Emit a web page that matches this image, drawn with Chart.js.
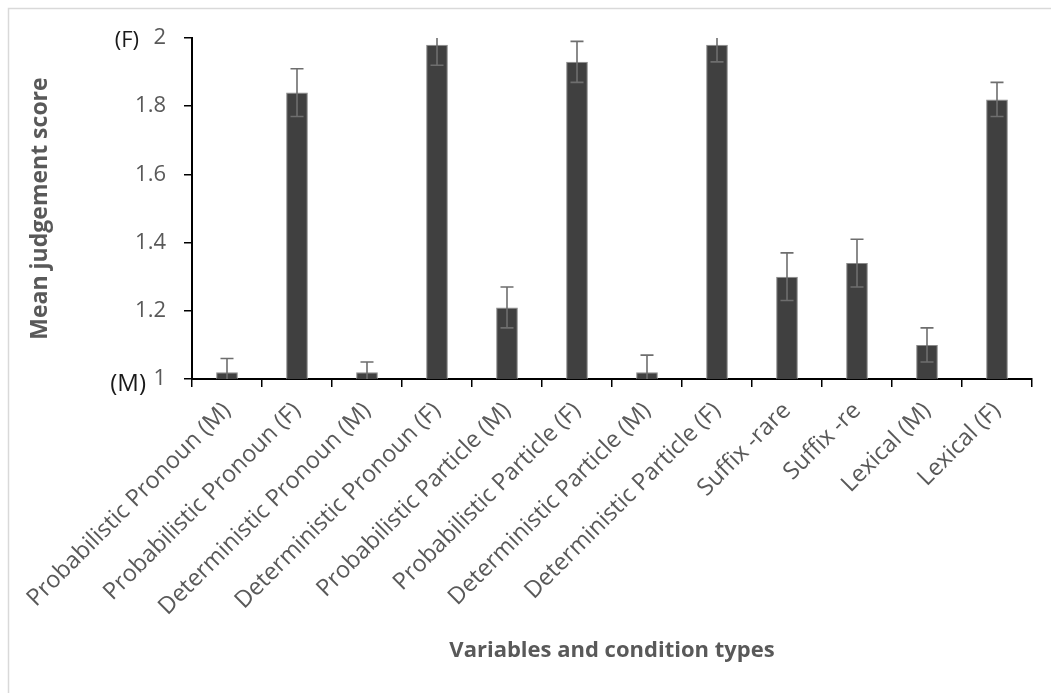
<!DOCTYPE html>
<html>
<head>
<meta charset="utf-8">
<title>Mean judgement score</title>
<script src="https://cdn.jsdelivr.net/npm/chart.js@4.4.1/dist/chart.umd.min.js"></script>
<style>
  html, body { margin: 0; padding: 0; background: #fff; }
  #wrap { width: 1051px; height: 693px; }
</style>
</head>
<body>
<div id="wrap"><canvas id="scoreChart" width="1051" height="693"></canvas></div>
<script>
const categories = [
  'Probabilistic Pronoun (M)', 'Probabilistic Pronoun (F)',
  'Deterministic Pronoun (M)', 'Deterministic Pronoun (F)',
  'Probabilistic Particle (M)', 'Probabilistic Particle (F)',
  'Deterministic Particle (M)', 'Deterministic Particle (F)',
  'Suffix -rare', 'Suffix -re', 'Lexical (M)', 'Lexical (F)'
];
const means  = [1.02, 1.84, 1.02, 1.98, 1.21, 1.93, 1.02, 1.98, 1.30, 1.34, 1.10, 1.82];
const errors = [0.04, 0.07, 0.03, 0.06, 0.06, 0.06, 0.05, 0.05, 0.07, 0.07, 0.05, 0.05];
const yTicks = [1, 1.2, 1.4, 1.6, 1.8, 2];

const grey = '#595959';
const font = "'Open Sans', sans-serif";

// white page with the light frame round the chart
const frame = {
  id: 'frame',
  beforeDraw(chart) {
    const { ctx, width, height } = chart;
    ctx.save();
    ctx.fillStyle = '#fff';
    ctx.fillRect(0, 0, width, height);
    ctx.strokeStyle = '#d9d9d9';
    ctx.lineWidth = 1.5;
    ctx.strokeRect(8.5, 8.5, width + 20, height + 20);
    ctx.restore();
  }
};

// +/- error whiskers on each bar, clipped to the plot area
const errorBars = {
  id: 'errorBars',
  afterDatasetsDraw(chart) {
    const { ctx, chartArea } = chart;
    const y = chart.scales.y;
    const meta = chart.getDatasetMeta(0);
    ctx.save();
    ctx.beginPath();
    ctx.rect(chartArea.left, chartArea.top, chartArea.right - chartArea.left, chartArea.bottom - chartArea.top);
    ctx.clip();
    ctx.strokeStyle = '#6e6e6e';
    ctx.lineWidth = 1.6;
    meta.data.forEach((bar, i) => {
      const hi = y.getPixelForValue(means[i] + errors[i]);
      const lo = y.getPixelForValue(means[i] - errors[i]);
      const x = bar.x;
      const cap = 6.5;
      ctx.beginPath();
      ctx.moveTo(x, hi); ctx.lineTo(x, lo);
      ctx.moveTo(x - cap, hi); ctx.lineTo(x + cap, hi);
      ctx.moveTo(x - cap, lo); ctx.lineTo(x + cap, lo);
      ctx.stroke();
    });
    ctx.restore();
  }
};

// (F) and (M) markers beside the end ticks of the score axis
const endMarkers = {
  id: 'endMarkers',
  afterDraw(chart) {
    const { ctx } = chart;
    const y = chart.scales.y;
    ctx.save();
    ctx.fillStyle = '#1a1a1a';
    ctx.textAlign = 'right';
    ctx.textBaseline = 'middle';
    ctx.font = `22px ${font}`;
    ctx.fillText('(F)', y.right - 53, y.getPixelForValue(2) + 3);
    ctx.font = `24px ${font}`;
    ctx.fillText('(M)', y.right - 46, y.getPixelForValue(1) + 5);
    ctx.restore();
  }
};

new Chart(document.getElementById('scoreChart'), {
  type: 'bar',
  data: {
    labels: categories,
    datasets: [{
      data: means,
      backgroundColor: '#404040',
      borderColor: '#8a8a8a',
      borderWidth: 1,
      categoryPercentage: 1,
      barPercentage: 0.31
    }]
  },
  options: {
    responsive: false,
    animation: false,
    layout: { padding: { left: 27, top: 38, right: 19, bottom: 29 } },
    plugins: {
      legend: { display: false },
      tooltip: { enabled: false }
    },
    scales: {
      x: {
        offset: true,
        grid: {
          offset: true,
          drawOnChartArea: false,
          drawTicks: true,
          tickLength: 8,
          color: '#000',
          lineWidth: 1.5
        },
        border: { display: true, color: '#000', width: 2 },
        ticks: {
          autoSkip: false,
          minRotation: 45,
          maxRotation: 45,
          padding: 10,
          color: grey,
          font: { family: font, size: 23.5 }
        },
        title: {
          display: true,
          text: 'Variables and condition types',
          color: grey,
          padding: 0,
          font: { family: font, size: 22, weight: 'bold' }
        },
        afterFit(scale) {
          scale.height = 285;
          scale.paddingLeft = 0;
          scale.paddingRight = 0;
        }
      },
      y: {
        min: 1,
        max: 2,
        afterBuildTicks(scale) {
          scale.ticks = yTicks.map(v => ({ value: v }));
        },
        grid: {
          drawOnChartArea: false,
          drawTicks: true,
          tickLength: 8,
          color: '#000',
          lineWidth: 1.5
        },
        border: { display: true, color: '#000', width: 2 },
        ticks: {
          padding: 18,
          color: grey,
          font: { family: font, size: 22 },
          callback: v => String(Math.round(v * 10) / 10)
        },
        title: {
          display: true,
          text: 'Mean judgement score',
          color: grey,
          padding: 0,
          font: { family: font, size: 23, weight: 'bold' }
        },
        afterFit(scale) {
          scale.width = 165;
          scale.paddingTop = 0;
          scale.paddingBottom = 0;
        }
      }
    }
  },
  plugins: [frame, errorBars, endMarkers]
});
</script>
</body>
</html>
